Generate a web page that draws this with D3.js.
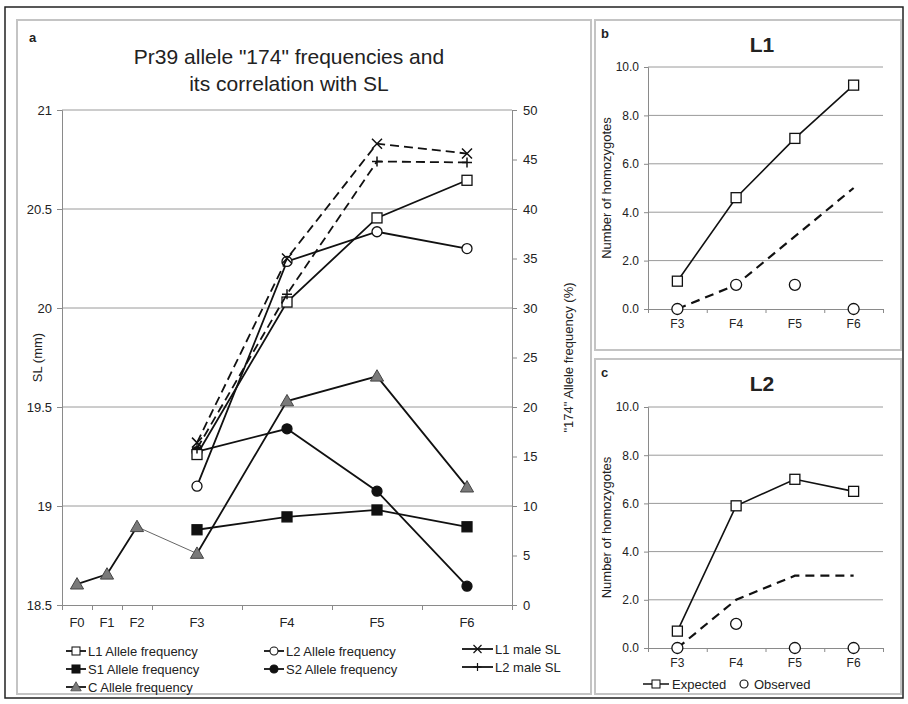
<!DOCTYPE html>
<html>
<head>
<meta charset="utf-8">
<style>
  body { margin: 0; background: #fff; }
  svg text { font-family: "Liberation Sans", Arial, sans-serif; fill: #222; }
</style>
</head>
<body>
<div id="chart"></div>
<script src="https://d3js.org/d3.v7.min.js"></script>
<script>
// ---- data ----
const gens = ["F0", "F1", "F2", "F3", "F4", "F5", "F6"];
const genPos = [0.5, 1.5, 2.5, 4.5, 7.5, 10.5, 13.5];   // category centres on the uneven axis
const genEdges = [0, 1, 2, 3, 6, 9, 12, 15];

// allele "174" frequency (%), F3..F6
const l1Freq = [15.2, 30.6, 39.1, 42.9];
const l2Freq = [12.0, 34.7, 37.7, 36.0];
const s1Freq = [7.6, 8.9, 9.6, 7.9];
const s2Freq = [15.5, 17.8, 11.5, 1.9];
// C line F0..F6
const cFreq = [2.1, 3.1, 7.9, 5.2, 20.6, 23.1, 11.9];
// male SL (mm), F3..F6
const l1MaleSL = [19.32, 20.25, 20.83, 20.78];
const l2MaleSL = [19.29, 20.07, 20.74, 20.735];

const slTicks = [18.5, 19, 19.5, 20, 20.5, 21];
const pctTicks = [0, 5, 10, 15, 20, 25, 30, 35, 40, 45, 50];

// homozygotes, F3..F6
const homoGens = ["F3", "F4", "F5", "F6"];
const l1Expected = [1.15, 4.6, 7.05, 9.25];
const l1Observed = [0, 1, 1, 0];
const l1Trend = [0, 1, 3, 5];
const l2Expected = [0.7, 5.9, 7.0, 6.5];
const l2Observed = [0, 1, 0, 0];
const l2Trend = [0, 2, 3, 3];
const homoTicks = [0, 2, 4, 6, 8, 10];

const svg = d3.select("#chart").append("svg")
  .attr("width", 908).attr("height", 704);

// frames
svg.append("rect").attr("x", 5).attr("y", 7).attr("width", 898).attr("height", 691)
  .attr("fill", "none").attr("stroke", "#222").attr("stroke-width", 1.5);
const frames = [[17, 20, 574, 674], [595, 20, 306, 330], [595, 359, 306, 335]];
frames.forEach(f => svg.append("rect").attr("x", f[0]).attr("y", f[1])
  .attr("width", f[2]).attr("height", f[3])
  .attr("fill", "none").attr("stroke", "#c4c4c4").attr("stroke-width", 2));

// ---- marker helper ----
function marker(g, type, x, y) {
  const s = 5;
  if (type === "sqOpen" || type === "sqFill") {
    g.append("rect").attr("x", x - s).attr("y", y - s).attr("width", 2 * s).attr("height", 2 * s)
      .attr("fill", type === "sqFill" ? "#111" : "#fff").attr("stroke", "#111").attr("stroke-width", 1.3);
  } else if (type === "ciOpen" || type === "ciFill") {
    g.append("circle").attr("cx", x).attr("cy", y).attr("r", s)
      .attr("fill", type === "ciFill" ? "#111" : "#fff").attr("stroke", "#111").attr("stroke-width", 1.3);
  } else if (type === "tri") {
    g.append("path").attr("d", d3.symbol(d3.symbolTriangle, 75)())
      .attr("transform", `translate(${x},${y + 1})`)
      .attr("fill", "#7a7a7a").attr("stroke", "#444").attr("stroke-width", 1);
  } else if (type === "cross") {
    g.append("path").attr("d", `M${x - s},${y - s}L${x + s},${y + s}M${x - s},${y + s}L${x + s},${y - s}`)
      .attr("stroke", "#111").attr("stroke-width", 1.5);
  } else if (type === "plus") {
    g.append("path").attr("d", `M${x - s},${y}L${x + s},${y}M${x},${y - s}L${x},${y + s}`)
      .attr("stroke", "#111").attr("stroke-width", 1.5);
  }
}

// ================= panel a =================
const A = { left: 62, right: 512, top: 110, bottom: 605 };
const x = d3.scaleLinear().domain([0, 15]).range([A.left, A.right]);
const yL = d3.scaleLinear().domain([18.5, 21]).range([A.bottom, A.top]);
const yR = d3.scaleLinear().domain([0, 50]).range([A.bottom, A.top]);
const ga = svg.append("g");

svg.append("text").attr("x", 29).attr("y", 42).attr("font-size", 13).attr("font-weight", "bold").text("a");
const tx = (A.left + A.right) / 2 + 2;
const title = ga.append("text").attr("font-size", 21).attr("text-anchor", "middle");
title.append("tspan").attr("x", tx).attr("y", 64).text('Pr39 allele "174" frequencies and');
title.append("tspan").attr("x", tx).attr("y", 91).text("its correlation with SL");

// gridlines
ga.selectAll(".grid").data(slTicks.slice(1)).join("line")
  .attr("x1", A.left).attr("x2", A.right)
  .attr("y1", d => yL(d)).attr("y2", d => yL(d))
  .attr("stroke", "#9a9a9a").attr("stroke-width", 1);

// left axis
const axL = ga.append("g").attr("transform", `translate(${A.left},0)`)
  .call(d3.axisLeft(yL).tickValues(slTicks).tickFormat(d3.format("")).tickSize(5).tickPadding(5));
// right axis
const axR = ga.append("g").attr("transform", `translate(${A.right},0)`)
  .call(d3.axisRight(yR).tickValues(pctTicks).tickSize(5).tickPadding(6));
// bottom axis: ticks at category edges
const axB = ga.append("g").attr("transform", `translate(0,${A.bottom})`)
  .call(d3.axisBottom(x).tickValues(genEdges).tickFormat("").tickSize(5));
[axL, axR, axB].forEach(a => {
  a.select(".domain").attr("stroke", "#8a8a8a");
  a.selectAll(".tick line").attr("stroke", "#8a8a8a");
  a.selectAll("text").attr("font-size", 13).attr("fill", "#222")
    .attr("font-family", '"Liberation Sans", Arial, sans-serif');
});
ga.selectAll(".glab").data(gens).join("text")
  .attr("x", (d, i) => x(genPos[i])).attr("y", A.bottom + 22)
  .attr("text-anchor", "middle").attr("font-size", 13).text(d => d);

ga.append("text").attr("transform", `translate(42,${(A.top + A.bottom) / 2}) rotate(-90)`)
  .attr("text-anchor", "middle").attr("font-size", 13).text("SL (mm)");
ga.append("text").attr("transform", `translate(573,${(A.top + A.bottom) / 2}) rotate(-90)`)
  .attr("text-anchor", "middle").attr("font-size", 13).text('"174"  Allele frequency (%)');

const late = [3, 4, 5, 6];
function series(vals, yS, mk, dashed, idx) {
  const pts = vals.map((v, i) => [x(genPos[idx[i]]), yS(v)]);
  ga.append("path").attr("d", d3.line()(pts)).attr("fill", "none")
    .attr("stroke", "#111").attr("stroke-width", 1.8)
    .attr("stroke-dasharray", dashed ? "9,5" : null);
  pts.forEach(p => marker(ga, mk, p[0], p[1]));
}
// C line: early part, thin link, late part
const cPts = cFreq.map((v, i) => [x(genPos[i]), yR(v)]);
ga.append("path").attr("d", d3.line()(cPts.slice(2, 4))).attr("fill", "none")
  .attr("stroke", "#666").attr("stroke-width", 1);
ga.append("path").attr("d", d3.line()(cPts.slice(0, 3))).attr("fill", "none")
  .attr("stroke", "#111").attr("stroke-width", 1.8);
series(cFreq.slice(3), yR, "tri", false, late);
cPts.slice(0, 3).forEach(p => marker(ga, "tri", p[0], p[1]));
series(s1Freq, yR, "sqFill", false, late);
series(s2Freq, yR, "ciFill", false, late);
series(l2Freq, yR, "ciOpen", false, late);
series(l1Freq, yR, "sqOpen", false, late);
series(l1MaleSL, yL, "cross", true, late);
series(l2MaleSL, yL, "plus", true, late);

// legend
const legendItems = [
  ["L1 Allele frequency", "sqOpen", 66, 651], ["L2 Allele frequency", "ciOpen", 264, 651], ["L1 male SL", "cross", 462, 649],
  ["S1 Allele frequency", "sqFill", 66, 669], ["S2 Allele frequency", "ciFill", 264, 669], ["L2 male SL", "plus", 462, 667],
  ["C Allele frequency", "tri", 66, 687]
];
legendItems.forEach(([label, mk, lx, ly]) => {
  const w = mk === "cross" || mk === "plus" ? 31 : 20;
  ga.append("line").attr("x1", lx).attr("x2", lx + w).attr("y1", ly).attr("y2", ly)
    .attr("stroke", "#111").attr("stroke-width", 1.8);
  const m = ga.append("g").attr("transform", `translate(${lx + w / 2},${ly}) scale(0.8) translate(${-(lx + w / 2)},${-ly})`);
  marker(m, mk, lx + w / 2, ly);
  ga.append("text").attr("x", lx + w + 2).attr("y", ly + 4.5).attr("font-size", 13).text(label);
});

// ================= panels b, c =================
function homoPanel(top, bottom, letter, letterY, name, nameY, expected, observed, trend, withLegend) {
  const P = { left: 648, right: 883, top: top, bottom: bottom };
  const xb = d3.scaleBand().domain(homoGens).range([P.left, P.right]);
  const yb = d3.scaleLinear().domain([0, 10]).range([P.bottom, P.top]);
  const g = svg.append("g");
  g.append("text").attr("x", 601).attr("y", letterY).attr("font-size", 13).attr("font-weight", "bold").text(letter);
  g.append("text").attr("x", 762).attr("y", nameY).attr("text-anchor", "middle")
    .attr("font-size", 21).attr("font-weight", "bold").text(name);
  g.selectAll(".grid").data(homoTicks.slice(1)).join("line")
    .attr("x1", P.left).attr("x2", P.right).attr("y1", d => yb(d)).attr("y2", d => yb(d))
    .attr("stroke", "#9a9a9a");
  const ay = g.append("g").attr("transform", `translate(${P.left},0)`)
    .call(d3.axisLeft(yb).tickValues(homoTicks).tickFormat(d3.format(".1f")).tickSize(4).tickPadding(5));
  const edges = homoGens.map(d => xb(d)).concat([P.right]);
  const ax = g.append("g").attr("transform", `translate(0,${P.bottom})`)
    .call(d3.axisBottom(d3.scaleLinear().domain([P.left, P.right]).range([P.left, P.right]))
      .tickValues(edges).tickFormat("").tickSize(4));
  [ay, ax].forEach(a => {
    a.select(".domain").attr("stroke", "#8a8a8a");
    a.selectAll(".tick line").attr("stroke", "#8a8a8a");
    a.selectAll("text").attr("font-size", 12).attr("fill", "#222")
      .attr("font-family", '"Liberation Sans", Arial, sans-serif');
  });
  g.selectAll(".xl").data(homoGens).join("text")
    .attr("x", d => xb(d) + xb.bandwidth() / 2).attr("y", P.bottom + 19)
    .attr("text-anchor", "middle").attr("font-size", 12).text(d => d);
  g.append("text").attr("transform", `translate(611,${(P.top + P.bottom) / 2}) rotate(-90)`)
    .attr("text-anchor", "middle").attr("font-size", 13).text("Number of homozygotes");
  const cx = d => xb(d) + xb.bandwidth() / 2;
  g.append("path").attr("d", d3.line()(trend.map((v, i) => [cx(homoGens[i]), yb(v)])))
    .attr("fill", "none").attr("stroke", "#111").attr("stroke-width", 2.2).attr("stroke-dasharray", "9,6");
  g.append("path").attr("d", d3.line()(expected.map((v, i) => [cx(homoGens[i]), yb(v)])))
    .attr("fill", "none").attr("stroke", "#111").attr("stroke-width", 1.6);
  expected.forEach((v, i) => marker(g, "sqOpen", cx(homoGens[i]), yb(v)));
  observed.forEach((v, i) => g.append("circle").attr("cx", cx(homoGens[i])).attr("cy", yb(v)).attr("r", 5.5)
    .attr("fill", "#fff").attr("stroke", "#111").attr("stroke-width", 1.3));
  if (withLegend) {
    const ly = P.bottom + 36;
    g.append("line").attr("x1", 643).attr("x2", 669).attr("y1", ly).attr("y2", ly).attr("stroke", "#111").attr("stroke-width", 1.5);
    const m = g.append("g").attr("transform", `translate(656,${ly}) scale(0.8) translate(-656,${-ly})`);
    marker(m, "sqOpen", 656, ly);
    g.append("text").attr("x", 672).attr("y", ly + 4.5).attr("font-size", 13).text("Expected");
    g.append("circle").attr("cx", 744).attr("cy", ly).attr("r", 4).attr("fill", "#fff").attr("stroke", "#111").attr("stroke-width", 1.2);
    g.append("text").attr("x", 754).attr("y", ly + 4.5).attr("font-size", 13).text("Observed");
  }
}
homoPanel(67, 309, "b", 38, "L1", 52, l1Expected, l1Observed, l1Trend, false);
homoPanel(407, 648, "c", 377, "L2", 391, l2Expected, l2Observed, l2Trend, true);
</script>
</body>
</html>
